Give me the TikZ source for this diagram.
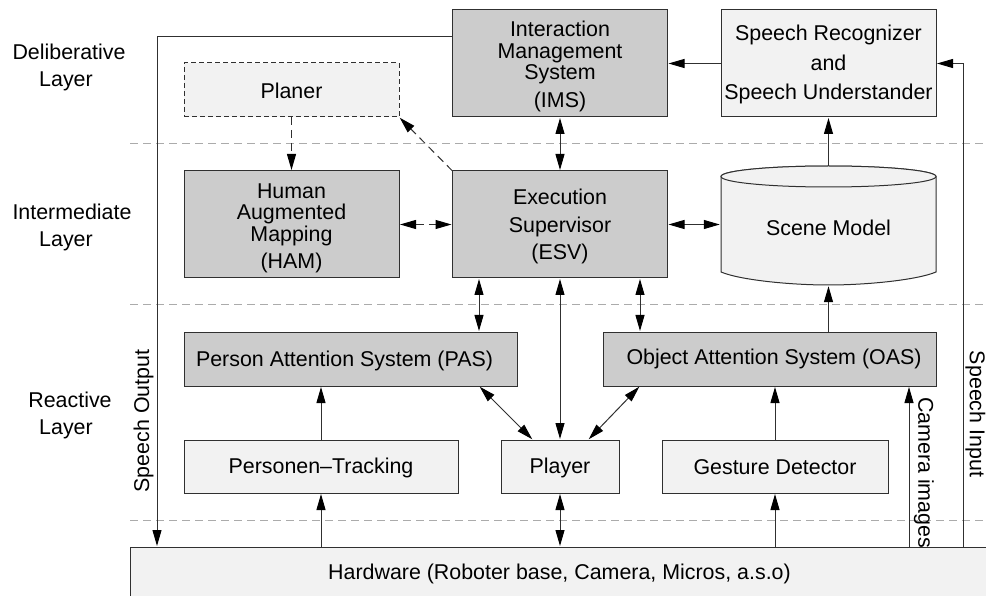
\documentclass[tikz,border=0pt]{standalone}
\usepackage{fontspec}
\setmainfont{Liberation Sans}
\usetikzlibrary{arrows.meta}
\definecolor{darkfill}{HTML}{CCCCCC}
\definecolor{lightfill}{HTML}{F2F2F2}
\definecolor{edge}{HTML}{303030}
\definecolor{sep}{HTML}{ABABAB}
\tikzset{
  lab/.style={inner sep=0pt,font=\fontsize{21.4}{21.5}\selectfont,align=center},
  boxbase/.style={draw=edge,line width=1pt,inner sep=0pt,outer sep=0pt},
  darkbox/.style={boxbase,fill=darkfill},
  lightbox/.style={boxbase,fill=lightfill},
  dashbox/.style={lightbox,dash pattern=on 5pt off 3pt},
  tip/.tip={Triangle[length=16pt,width=9pt,fill=black,color=black]},
  conn/.style={draw=edge,line width=1pt,-tip,shorten >=1pt},
  biconn/.style={draw=edge,line width=1pt,tip-tip,shorten >=1pt,shorten <=1pt},
  dconn/.style={conn,dash pattern=on 8pt off 5pt},
  dbiconn/.style={biconn,dash pattern=on 8pt off 5pt},
  layersep/.style={draw=sep,line width=1pt,dash pattern=on 8pt off 5pt},
}
\begin{document}
\begin{tikzpicture}[x=1pt,y=-1pt]
\path[use as bounding box,clip] (0,0) rectangle (986,596);
% layer separators
\coordinate (sl) at (130,0); \coordinate (sr2) at (984,0);
\coordinate (l1) at (0,144); \coordinate (l2) at (0,305); \coordinate (l3) at (0,520);
\draw[layersep] (sl |- l1) -- (sr2 |- l1);
\draw[layersep] (sl |- l2) -- (sr2 |- l2);
\draw[layersep] (sl |- l3) -- (sr2 |- l3);
% layer labels
\node[lab] (dl) at (69,67.5) {Deliberative\\[5.5pt]Layer\kern6pt};
\node[lab] (il) at (72,227.5) {Intermediate\\[5.5pt]Layer\kern12pt};
\node[lab] (rl) at (70,415.5) {Reactive\\[5.5pt]Layer\kern8pt};
% boxes
\node[darkbox,minimum width=215pt,minimum height=107pt,label={[lab,yshift=-3pt]center:{Interaction\\Management\\System\\[6pt](IMS)}}] (ims) at (560,63.5) {};
\node[lightbox,minimum width=215pt,minimum height=107pt,label={[lab,yshift=-1pt]center:{Speech Recognizer\\[8pt]and\\[8pt]Speech Understander}}] (srec) at (828.5,63.5) {};
\node[dashbox,minimum width=215pt,minimum height=54pt,label={[lab,yshift=-1pt]center:{Planer}}] (plan) at (291.5,90) {};
\node[darkbox,minimum width=215pt,minimum height=107pt,label={[lab,yshift=-4pt]center:{Human\\Augmented\\Mapping\\[6pt](HAM)}}] (ham) at (291.5,224.5) {};
\node[darkbox,minimum width=215pt,minimum height=107pt,label={[lab,yshift=-2pt]center:{Execution\\[6pt]Supervisor\\[6pt](ESV)}}] (esv) at (560,224.5) {};
% scene model cylinder
\draw[edge,line width=1pt,fill=lightfill] (721,176.5) -- (721,272) .. controls (740,280) and (790,285) .. (828.5,285) .. controls (867,285) and (917,280) .. (936,272) -- (936,176.5) arc[start angle=0,end angle=180,x radius=107.5,y radius=-10.5];
\draw[edge,line width=1pt,fill=lightfill] (828.5,176.5) ellipse[x radius=107.5,y radius=10.5];
\node[inner sep=0pt,minimum width=215pt,minimum height=119pt,label={[lab,yshift=-2pt]center:{Scene Model}}] (scene) at (828.5,225.5) {};
\node[darkbox,minimum width=333pt,minimum height=54pt,label={[lab,xshift=-6pt,yshift=-2pt]center:{Person Attention System (PAS)}}] (pas) at (350.5,359) {};
\node[darkbox,minimum width=333pt,minimum height=54pt,label={[lab,xshift=4.5pt]center:{Object Attention System (OAS)}}] (oas) at (769.5,359) {};
\node[lightbox,minimum width=274pt,minimum height=53pt,label={[lab,yshift=-1pt]center:{Personen--Tracking}}] (ptrack) at (321,466.5) {};
\node[lightbox,minimum width=118pt,minimum height=53pt,label={[lab,yshift=-1pt]center:{Player}}] (player) at (560,466.5) {};
\node[lightbox,minimum width=226pt,minimum height=53pt,label={[lab,yshift=-1pt]center:{Gesture Detector}}] (gest) at (775,466.5) {};
% rotated labels
\node[lab,rotate=90] (so) at (143.5,421) {Speech Output};
\node[lab,rotate=-90] (si) at (975.5,414) {Speech Input};
\node[lab,rotate=-90,anchor=west] (ci) at (924,397) {Camera images};
% hardware
\node[lightbox,minimum width=860pt,minimum height=53pt,label={[lab,xshift=-0.5pt]center:{Hardware (Roboter base, Camera, Micros, a.s.o)}}] (hw) at (560,573.5) {};
% helper columns
\coordinate (xo) at (157,0); \coordinate (xi) at (963,0);
\coordinate (xa) at (479,0); \coordinate (xb) at (640,0); \coordinate (xc) at (909,0);
\coordinate (xd) at (533,0); \coordinate (xe) at (588,0);
\coordinate (yo) at (0,36.5);
% connectors
\draw[conn] (ims.west |- yo) -- (xo |- yo) -- (xo |- hw.north);
\draw[conn] (xi |- hw.north) -- (xi |- srec.west) -- (srec.east);
\draw[conn] (srec.west) -- (ims.east);
\draw[biconn] (ims.south) -- (esv.north);
\draw[dconn] (plan.south) -- (ham.north);
\draw[dconn] (esv.north west) -- (plan.south east);
\draw[dbiconn] (ham.east) -- (esv.west);
\draw[biconn] (esv.east) -- (scene.west |- esv.east);
\draw[conn] (scene.north) -- (srec.south);
\draw[conn] (oas.north -| scene) -- (scene.south);
\draw[biconn] (esv.south -| xa) -- (pas.north -| xa);
\draw[biconn] (esv.south) -- (player.north);
\draw[biconn] (esv.south -| xb) -- (oas.north -| xb);
\draw[conn] (ptrack.north) -- (ptrack.north |- pas.south);
\draw[conn] (hw.north -| ptrack) -- (ptrack.south);
\draw[biconn] (pas.south -| xa) -- (player.north -| xd);
\draw[biconn] (oas.south -| xb) -- (player.north -| xe);
\draw[biconn] (player.south) -- (hw.north -| player);
\draw[conn] (gest.north) -- (gest.north |- oas.south);
\draw[conn] (hw.north -| gest) -- (gest.south);
\draw[conn] (hw.north -| xc) -- (oas.south -| xc);
\end{tikzpicture}
\end{document}
